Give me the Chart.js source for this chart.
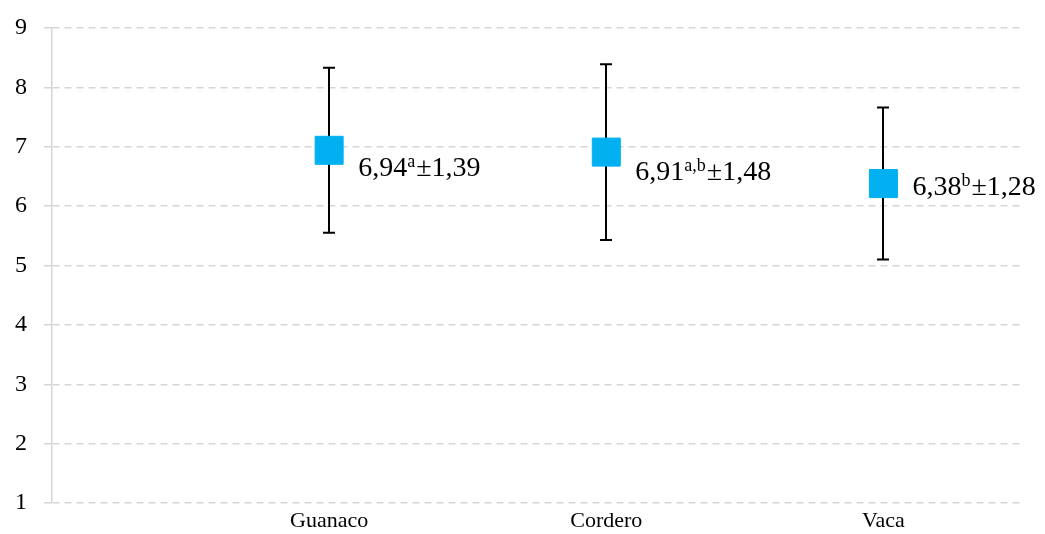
<!DOCTYPE html>
<html>
<head>
<meta charset="utf-8">
<script src="https://cdn.jsdelivr.net/npm/chart.js@4.4.1/dist/chart.umd.min.js"></script>
<style>
  html, body { margin: 0; padding: 0; background: #ffffff; }
  #wrap { width: 1045px; height: 534px; position: relative; }
</style>
</head>
<body>
<div id="wrap"><canvas id="c"></canvas></div>
<script>
// Meat types and their mean score ± standard deviation
const categories = ['Guanaco', 'Cordero', 'Vaca'];
const means = [6.94, 6.91, 6.38];
const stdDevs = [1.39, 1.48, 1.28];
const groupLetters = ['a', 'a,b', 'b'];
const yTicks = [1, 2, 3, 4, 5, 6, 7, 8, 9];

const SERIF = '"Liberation Serif", "Times New Roman", serif';
const fmt = v => v.toFixed(2).replace('.', ',');

// Vertical whiskers with caps, drawn underneath the markers
const errorBars = {
  id: 'errorBars',
  beforeDatasetsDraw(chart) {
    const { ctx, scales: { x, y } } = chart;
    ctx.save();
    ctx.strokeStyle = '#000000';
    ctx.lineWidth = 2;
    means.forEach((m, i) => {
      const px = Math.round(x.getPixelForValue(i + 1));
      const top = y.getPixelForValue(m + stdDevs[i]);
      const bot = y.getPixelForValue(m - stdDevs[i]);
      ctx.beginPath();
      ctx.moveTo(px, top); ctx.lineTo(px, bot);
      ctx.moveTo(px - 6, top); ctx.lineTo(px + 6, top);
      ctx.moveTo(px - 6, bot); ctx.lineTo(px + 6, bot);
      ctx.stroke();
    });
    ctx.restore();
  }
};

// "mean^letters ± sd" text to the right of each marker
const valueLabels = {
  id: 'valueLabels',
  afterDatasetsDraw(chart) {
    const { ctx, scales: { x, y } } = chart;
    const baselineShift = [26, 28, 11];
    ctx.save();
    ctx.fillStyle = '#000000';
    ctx.textBaseline = 'alphabetic';
    ctx.textAlign = 'left';
    means.forEach((m, i) => {
      let px = x.getPixelForValue(i + 1) + 29;
      const py = y.getPixelForValue(m) + baselineShift[i];
      ctx.font = '28px ' + SERIF;
      const a = fmt(m);
      ctx.fillText(a, px, py);
      px += ctx.measureText(a).width;
      ctx.font = '18px ' + SERIF;
      ctx.fillText(groupLetters[i], px, py - 9);
      px += ctx.measureText(groupLetters[i]).width + 1;
      ctx.font = '28px ' + SERIF;
      ctx.fillText('±' + fmt(stdDevs[i]), px, py);
    });
    ctx.restore();
  }
};

new Chart(document.getElementById('c'), {
  type: 'scatter',
  data: {
    datasets: [{
      data: means.map((m, i) => ({ x: i + 1, y: m })),
      pointStyle: 'rect',
      pointRadius: 19.8,
      pointHoverRadius: 19.8,
      backgroundColor: '#00B0F0',
      borderColor: '#00B0F0',
      borderWidth: 1
    }]
  },
  plugins: [errorBars, valueLabels],
  options: {
    responsive: true,
    maintainAspectRatio: false,
    animation: false,
    events: [],
    layout: { padding: { top: 28, right: 23, left: 0, bottom: 0 } },
    plugins: { legend: { display: false }, tooltip: { enabled: false } },
    scales: {
      x: {
        type: 'linear',
        min: 0,
        max: 3.5,
        afterBuildTicks(scale) {
          scale.ticks = categories.map((_, i) => ({ value: i + 1 }));
        },
        afterFit(scale) { scale.height = 31; },
        grid: { display: false },
        border: { display: false },
        ticks: {
          autoSkip: false,
          maxRotation: 0,
          padding: -3,
          color: '#000000',
          font: { family: SERIF, size: 22 },
          callback: (v) => categories[Math.round(v) - 1] || ''
        }
      },
      y: {
        min: 1,
        max: 9,
        afterBuildTicks(scale) {
          scale.ticks = yTicks.map(v => ({ value: v }));
        },
        afterFit(scale) {
          scale.width = 52;
          scale.paddingTop = 0;
          scale.paddingBottom = 0;
        },
        grid: {
          color: '#d6d6d6',
          lineWidth: 1.5,
          tickLength: 8,
          tickBorderDash: [7, 5],
          tickColor: '#d6d6d6'
        },
        border: { display: true, color: '#d6d6d6', width: 1.5, dash: [7, 5] },
        ticks: {
          padding: 17,
          color: '#000000',
          font: { family: SERIF, size: 24 }
        }
      }
    }
  }
});
</script>
</body>
</html>
